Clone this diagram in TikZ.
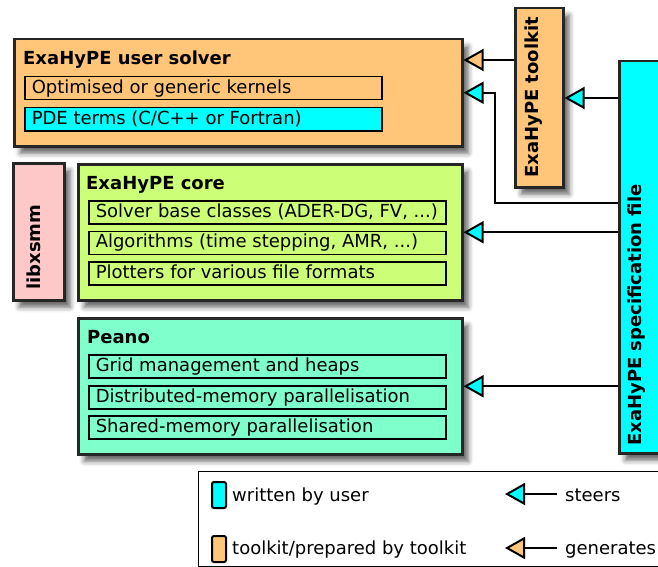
\documentclass[tikz,border=0pt]{standalone}
\usepackage{fontspec}
\setmainfont{DejaVu Sans}
\usetikzlibrary{arrows.meta,shadows.blur,calc}
\definecolor{tkorange}{RGB}{255,198,122}
\definecolor{coregreen}{RGB}{204,255,119}
\definecolor{peanogreen}{RGB}{127,255,204}
\definecolor{libpink}{RGB}{255,200,200}
\definecolor{usercyan}{RGB}{0,255,255}
\newcommand\lefttext[1]{\makebox[343pt][l]{#1}}
\begin{document}
\begin{tikzpicture}[x=1pt,y=-1pt,
  every node/.style={font=\fontsize{18}{21}\selectfont},
  outerbox/.style={draw=black!85, line width=2.5pt, rectangle, inner sep=0pt, anchor=north west,
    blur shadow={shadow xshift=6pt, shadow yshift=-7pt, shadow blur radius=5pt, shadow opacity=60}},
  itembox/.style={draw=black, line width=1.5pt, anchor=north west, minimum width=357pt, minimum height=23pt,
    inner xsep=7pt, inner ysep=3pt, text height=13.5pt, text depth=3.5pt},
  titletext/.style={anchor=base west, inner sep=0pt, font=\fontsize{18}{21}\selectfont\bfseries},
  vtitle/.style={rotate=90, anchor=west, inner sep=0pt, font=\fontsize{18}{21}\selectfont\bfseries},
  steer/.style={line width=2pt, -{Triangle[length=20pt,width=22pt,fill=usercyan]}},
  gen/.style={line width=2pt, -{Triangle[length=20pt,width=22pt,fill=tkorange]}},
  swatch/.style={draw=black, line width=2pt, rounded corners=2pt, minimum width=14pt, minimum height=26pt, inner sep=0pt, anchor=north west},
  legtext/.style={anchor=base west, inner sep=0pt},
]
\useasboundingbox (0,0) rectangle (658,567);

% outer boxes
\node[outerbox, fill=tkorange, minimum width=448pt, minimum height=107pt] (us) at (13,38) {};
\node[outerbox, fill=libpink, minimum width=51pt, minimum height=137pt] (lib) at (12,162) {};
\node[outerbox, fill=coregreen, minimum width=384pt, minimum height=136pt] (core) at (77,163) {};
\node[outerbox, fill=peanogreen, minimum width=384pt, minimum height=136pt] (peano) at (77,317) {};
\node[outerbox, fill=tkorange, minimum width=48pt, minimum height=179pt] (tk) at (514,7) {};
\node[outerbox, fill=usercyan, minimum width=80pt, minimum height=392pt] (spec) at (618,60) {};

% titles
\node[titletext] (ust) at (23,65) {ExaHyPE user solver};
\node[titletext] (coret) at (86,189) {ExaHyPE core};
\node[titletext] (peanot) at (87,343) {Peano};
\node[vtitle] (libt) at (34,290) {libxsmm};
\node[vtitle] (tkt) at (534,178) {ExaHyPE toolkit};
\node[vtitle] (spect) at (637,446) {ExaHyPE specification file};

% items
\node[itembox] (k1) at (24,76) {\lefttext{Optimised or generic kernels}};
\node[itembox, fill=usercyan] (k2) at (24,107) {\lefttext{PDE terms (C/C++ or Fortran)}};
\node[itembox] (c1) at (88,200) {\lefttext{Solver base classes (ADER-DG, FV, ...)}};
\node[itembox] (c2) at (88,230.5) {\lefttext{Algorithms (time stepping, AMR, ...)}};
\node[itembox] (c3) at (88,261) {\lefttext{Plotters for various file formats}};
\node[itembox] (p1) at (88,354) {\lefttext{Grid management and heaps}};
\node[itembox] (p2) at (88,385) {\lefttext{Distributed-memory parallelisation}};
\node[itembox] (p3) at (88,415) {\lefttext{Shared-memory parallelisation}};

% connectors
\draw[gen] (tk.west |- 0,60) -- (us.east |- 0,60);
\draw[steer] (spec.west |- 0,98) -- (tk.east |- 0,98);
\draw[steer] (spec.west |- 0,203) -| ($(us.east)+(31,0)$) -- (us.east);
\draw[steer] (spec.west |- core.east) -- (core.east);
\draw[steer] (spec.west |- peano.east) -- (peano.east);

% legend
\node[draw=black, line width=1pt, anchor=north west, minimum width=480pt, minimum height=95pt, inner sep=0pt] (legend) at (198,471) {};
\node[swatch, fill=usercyan] (sw1) at (211,481) {};
\node[swatch, fill=tkorange] (sw2) at (211,535) {};
\node[legtext] (lt1) at (232,501) {written by user};
\node[legtext] (lt2) at (232,554) {toolkit/prepared by toolkit};
\node[legtext] (lt3) at (565,501) {steers};
\node[legtext] (lt4) at (565,554) {generates};
\coordinate (a1s) at (557,494);
\coordinate (a1e) at (505,494);
\coordinate (a2s) at (557,548);
\coordinate (a2e) at (505,548);
\draw[steer] (a1s) -- (a1e);
\draw[gen] (a2s) -- (a2e);
\end{tikzpicture}
\end{document}
